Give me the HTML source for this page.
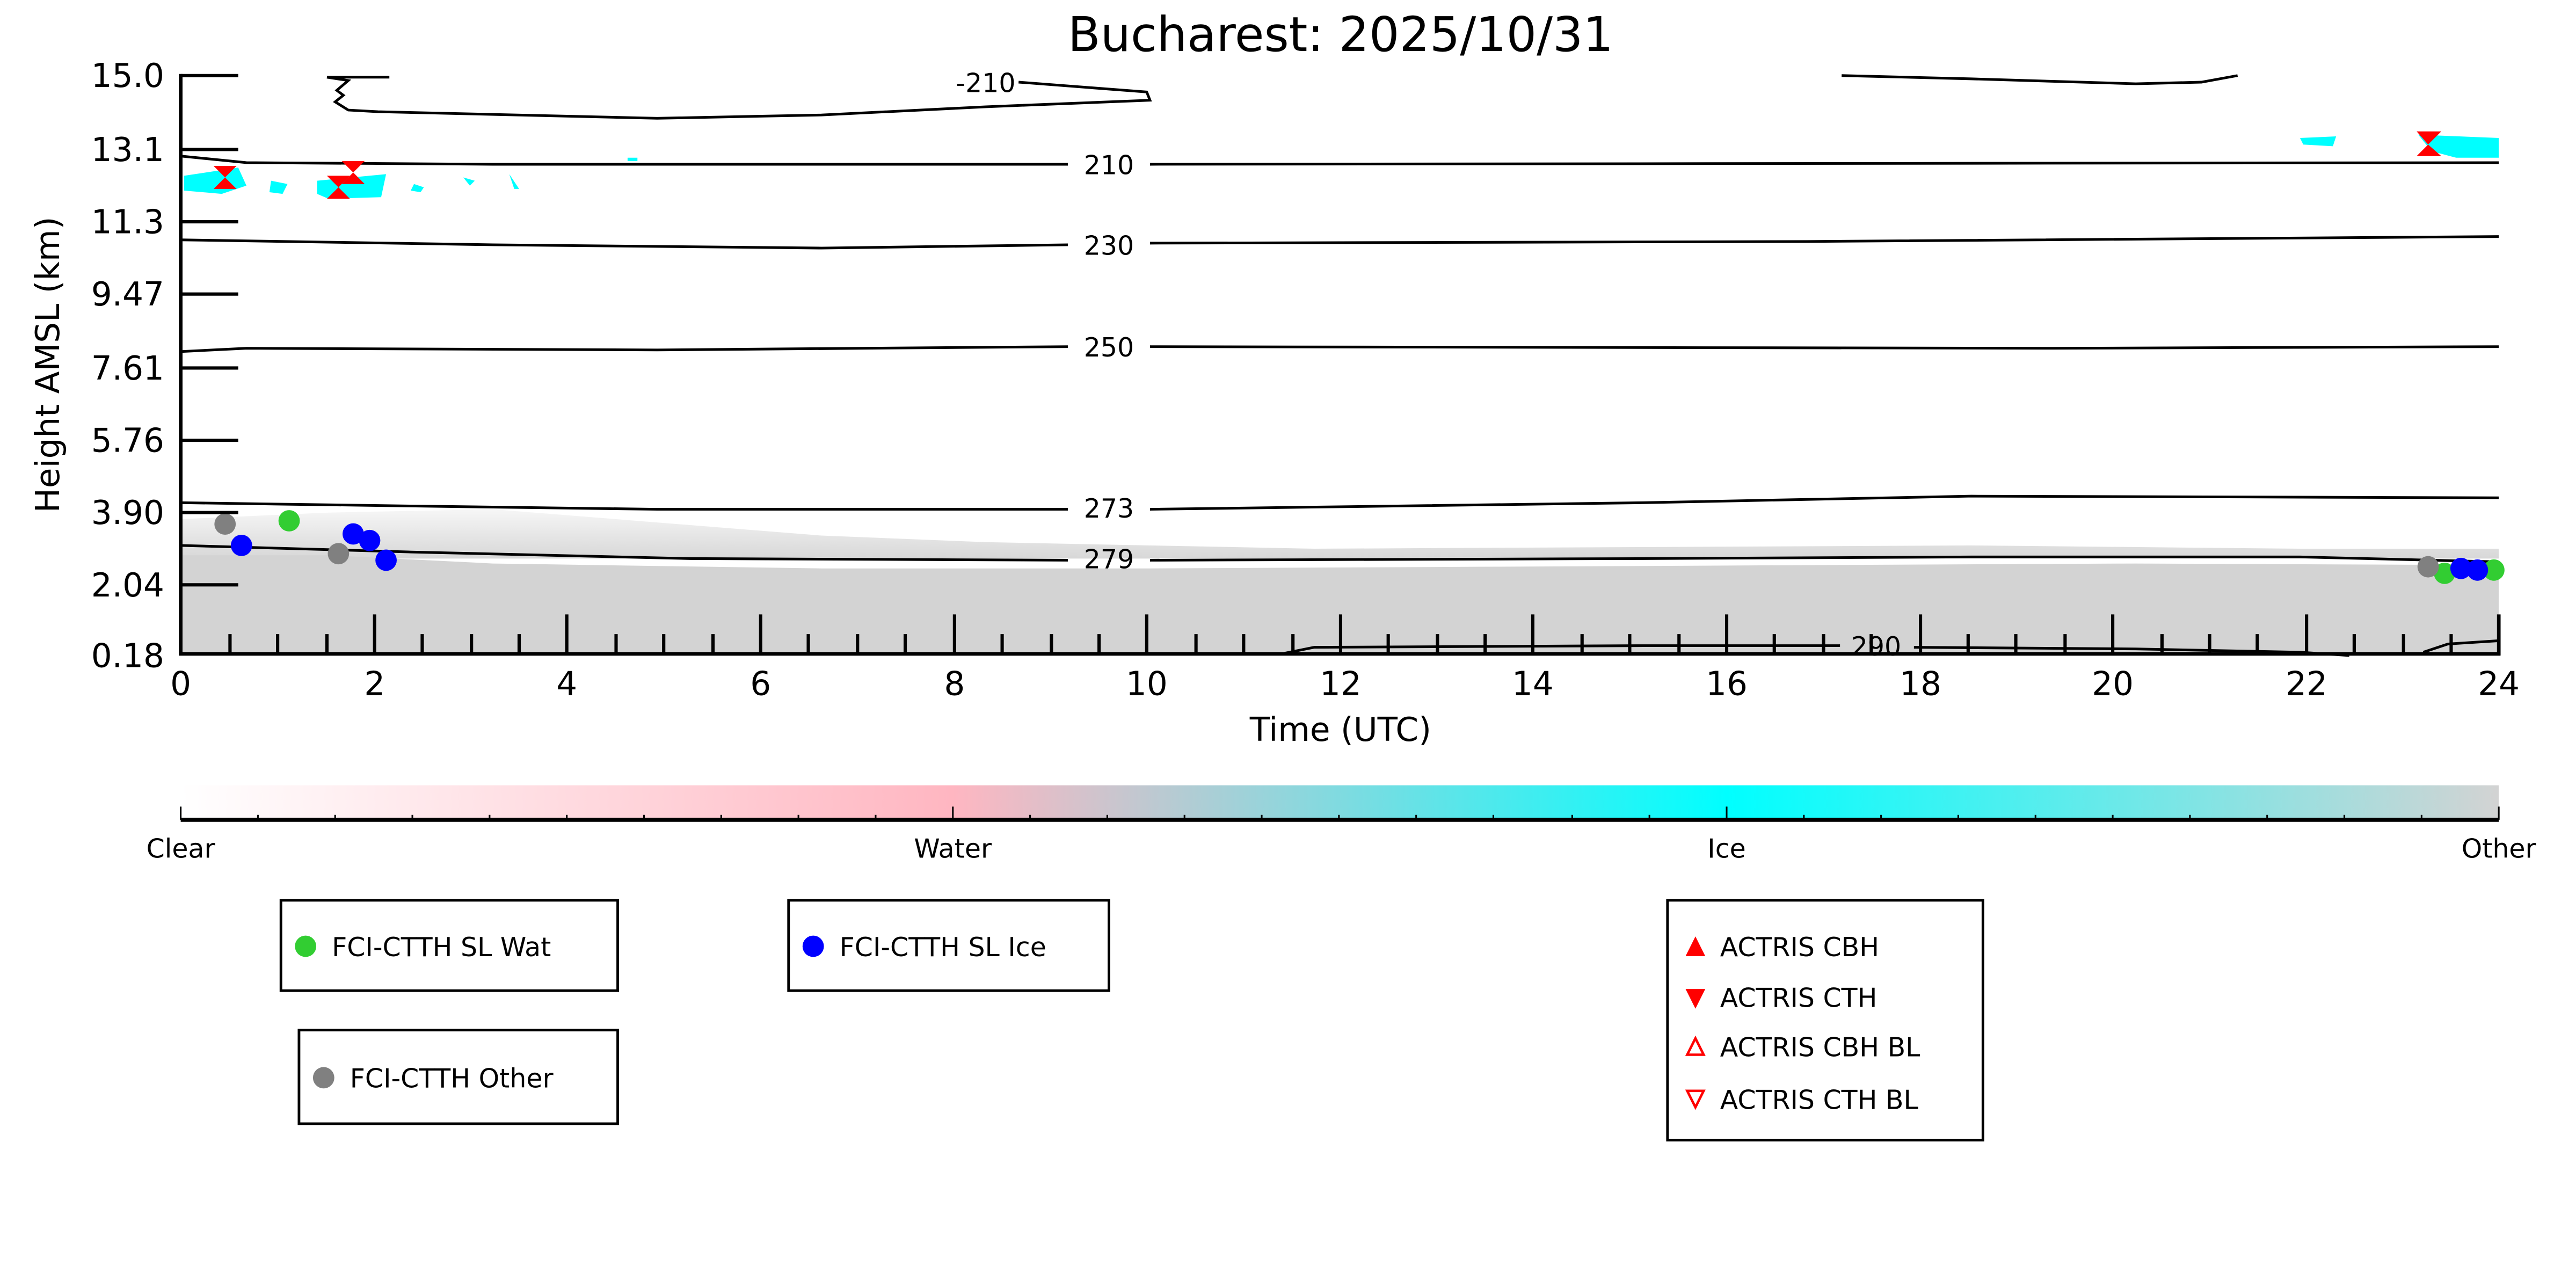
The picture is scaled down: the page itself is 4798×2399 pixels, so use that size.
<!DOCTYPE html>
<html><head><meta charset="utf-8"><style>
html,body{margin:0;padding:0;background:#fff;}
svg{display:block;}
text{font-family:"DejaVu Sans","Liberation Sans",sans-serif;}
</style></head><body>
<svg width="4798" height="2399" viewBox="0 0 1568 784" xmlns="http://www.w3.org/2000/svg">
<defs>
<linearGradient id="cb" x1="0" x2="1" y1="0" y2="0">
<stop offset="0" stop-color="#ffffff"/>
<stop offset="0.333" stop-color="#ffb6c1"/>
<stop offset="0.667" stop-color="#00ffff"/>
<stop offset="1" stop-color="#d3d3d3"/>
</linearGradient>
<linearGradient id="fade" x1="0" x2="0" y1="0" y2="1">
<stop offset="0" stop-color="#d3d3d3" stop-opacity="0.2"/>
<stop offset="1" stop-color="#d3d3d3" stop-opacity="0.9"/>
</linearGradient>
</defs>
<text x="816" y="31" font-size="29" text-anchor="middle">Bucharest: 2025/10/31</text>
<path d="M110,316 L200,312 L300,310 L400,318 L500,326 L600,330 L800,334 L1000,333 L1200,332 L1400,334 L1521,334 L1521,340 L110,340 Z" fill="url(#fade)"/>
<path d="M110,338 L200,338 L300,343 L500,346 L700,346 L900,345 L1100,344 L1300,343 L1521,344 L1521,398 L110,398 Z" fill="#d3d3d3"/>
<g fill="#00ffff">
<path d="M112,107 L145,102 L150,113 L135,118 L112,116 Z"/>
<path d="M165,110 L175,112 L172,118 L164,117 Z"/>
<path d="M193,110 L235,106 L232,120 L200,121 L193,118 Z"/>
<path d="M252,112 L258,114 L256,117 L250,116Z"/>
<path d="M282,108 L289,110 L286,113Z"/>
<path d="M310,106 L316,115 L313,115Z"/>
<path d="M382,96 L388,96 L388,98 L382,98Z"/>
<path d="M1400,84 L1422,83 L1420,89 L1402,88Z"/>
<path d="M1472,82 L1521,84 L1521,96 L1495,96 L1480,92 Z"/>
</g>
<g fill="none" stroke="#000" stroke-width="1.6">
<path d="M199,47 L237,47 M199,47 L212,49 L205,55 L209,58 L204,62 L212,67 L230,68 L400,72 L500,70 L600,65 L700,61 L698,56 L620,50"/>
<path d="M1121,46 L1200,48 L1300,51 L1340,50 L1362,46"/>
<path d="M110,95 L150,99 L300,100 L650,100 M700,100 L1521,99"/>
<path d="M110,146 L300,149 L500,151 L650,149 M700,148 L1100,147 L1521,144"/>
<path d="M110,214 L150,212 L400,213 L650,211 M700,211 L1250,212 L1521,211"/>
<path d="M110,306 L250,308 L400,310 L650,310 M700,310 L1000,306 L1200,302 L1521,303"/>
<path d="M110,332 L250,336 L420,340 L650,341 M700,341 L1000,340 L1200,339 L1400,339 L1521,342"/>
<path d="M780,398 L800,394 L1000,393 L1120,393 M1165,394 L1300,395 L1400,397 L1430,399"/>
<path d="M1475,397 L1490,392 L1521,390"/>
</g>
<g font-size="16" text-anchor="middle">
<text x="675" y="106">210</text>
<text x="675" y="155">230</text>
<text x="675" y="217">250</text>
<text x="675" y="315">273</text>
<text x="675" y="346">279</text>
<text x="600" y="56">-210</text>
<text x="1142" y="399">290</text>
</g>
<g fill="#ff0000">
<path d="M130,101 L144,101 L137,108 L144,115 L130,115 L137,108Z"/>
<path d="M208,98 L222,98 L215,105 L222,112 L208,112 L215,105Z"/>
<path d="M199,107 L213,107 L206,114 L213,121 L199,121 L206,114Z"/>
<path d="M1471,80 L1486,80 L1478,88 L1486,95 L1471,95 L1478,88Z"/>
</g>
<g>
<circle cx="137" cy="319" r="6.5" fill="#808080"/>
<circle cx="147" cy="332" r="6.5" fill="#0000ff"/>
<circle cx="176" cy="317" r="6.5" fill="#32cd32"/>
<circle cx="206" cy="337" r="6.5" fill="#808080"/>
<circle cx="215" cy="325" r="6.5" fill="#0000ff"/>
<circle cx="225" cy="329" r="6.5" fill="#0000ff"/>
<circle cx="235" cy="341" r="6.5" fill="#0000ff"/>
<circle cx="1488" cy="349" r="6.5" fill="#32cd32"/>
<circle cx="1518" cy="347" r="6.5" fill="#32cd32"/>
<circle cx="1478" cy="345" r="6.5" fill="#808080"/>
<circle cx="1498" cy="346" r="6.5" fill="#0000ff"/>
<circle cx="1508" cy="347" r="6.5" fill="#0000ff"/>
</g>
<g stroke="#000" stroke-width="2.2">
<line x1="110" y1="45" x2="110" y2="399"/>
<line x1="109" y1="398" x2="1522" y2="398"/>
<line x1="1521" y1="374" x2="1521" y2="399"/>
</g>
<g stroke="#000" stroke-width="2">
<path d="M110,46h35M110,91h35M110,135h35M110,179h35M110,224h35M110,268h35M110,312h35M110,356h35"/>
<path d="M140,398v-12M169,398v-12M199,398v-12M257,398v-12M287,398v-12M316,398v-12M375,398v-12M404,398v-12M434,398v-12M492,398v-12M522,398v-12M551,398v-12M610,398v-12M640,398v-12M669,398v-12M728,398v-12M757,398v-12M787,398v-12M845,398v-12M875,398v-12M904,398v-12M963,398v-12M992,398v-12M1022,398v-12M1080,398v-12M1110,398v-12M1139,398v-12M1198,398v-12M1227,398v-12M1257,398v-12M1316,398v-12M1345,398v-12M1374,398v-12M1433,398v-12M1463,398v-12M1492,398v-12"/>
<path d="M228,398v-24M345,398v-24M463,398v-24M581,398v-24M698,398v-24M816,398v-24M933,398v-24M1051,398v-24M1169,398v-24M1286,398v-24M1404,398v-24"/>
</g>
<g font-size="20" text-anchor="end">
<text x="100" y="53">15.0</text><text x="100" y="98">13.1</text><text x="100" y="142">11.3</text>
<text x="100" y="186">9.47</text><text x="100" y="231">7.61</text><text x="100" y="275">5.76</text>
<text x="100" y="319">3.90</text><text x="100" y="363">2.04</text><text x="100" y="406">0.18</text>
</g>
<g font-size="20" text-anchor="middle">
<text x="110" y="423">0</text><text x="228" y="423">2</text><text x="345" y="423">4</text><text x="463" y="423">6</text>
<text x="581" y="423">8</text><text x="698" y="423">10</text><text x="816" y="423">12</text><text x="933" y="423">14</text>
<text x="1051" y="423">16</text><text x="1169" y="423">18</text><text x="1286" y="423">20</text><text x="1404" y="423">22</text>
<text x="1521" y="423">24</text>
<text x="816" y="451">Time (UTC)</text>
<text transform="translate(36,222) rotate(-90)">Height AMSL (km)</text>
</g>
<rect x="110" y="478" width="1411" height="21" fill="url(#cb)"/>
<line x1="110" y1="499" x2="1521" y2="499" stroke="#000" stroke-width="2.5"/>
<g stroke="#000" stroke-width="1">
<path d="M110,499v-8M157,499v-3M204,499v-3M251,499v-3M298,499v-3M345,499v-3M392,499v-3M439,499v-3M486,499v-3M533,499v-3M580,499v-8M627,499v-3M674,499v-3M721,499v-3M768,499v-3M815,499v-3M862,499v-3M909,499v-3M957,499v-3M1004,499v-3M1051,499v-8M1098,499v-3M1145,499v-3M1192,499v-3M1239,499v-3M1286,499v-3M1333,499v-3M1380,499v-3M1427,499v-3M1474,499v-3M1521,499v-8"/>
</g>
<g font-size="16" text-anchor="middle">
<text x="110" y="522">Clear</text><text x="580" y="522">Water</text><text x="1051" y="522">Ice</text><text x="1521" y="522">Other</text>
</g>
<g fill="#fff" stroke="#000" stroke-width="1.6">
<rect x="171" y="548" width="205" height="55"/>
<rect x="480" y="548" width="195" height="55"/>
<rect x="182" y="627" width="194" height="57"/>
<rect x="1015" y="548" width="192" height="146"/>
</g>
<g font-size="16">
<circle cx="186" cy="576" r="6.5" fill="#32cd32"/><text x="202" y="582">FCI-CTTH SL Wat</text>
<circle cx="495" cy="576" r="6.5" fill="#0000ff"/><text x="511" y="582">FCI-CTTH SL Ice</text>
<circle cx="197" cy="656" r="6.5" fill="#808080"/><text x="213" y="662">FCI-CTTH Other</text>
<path d="M1026,582 L1038,582 L1032,570Z" fill="#f00"/><text x="1047" y="582">ACTRIS CBH</text>
<path d="M1026,602 L1038,602 L1032,614Z" fill="#f00"/><text x="1047" y="613">ACTRIS CTH</text>
<path d="M1027,642 L1037,642 L1032,632Z" fill="none" stroke="#f00" stroke-width="1.5"/><text x="1047" y="643">ACTRIS CBH BL</text>
<path d="M1027,664 L1037,664 L1032,674Z" fill="none" stroke="#f00" stroke-width="1.5"/><text x="1047" y="675">ACTRIS CTH BL</text>
</g>
</svg>
</body></html>
